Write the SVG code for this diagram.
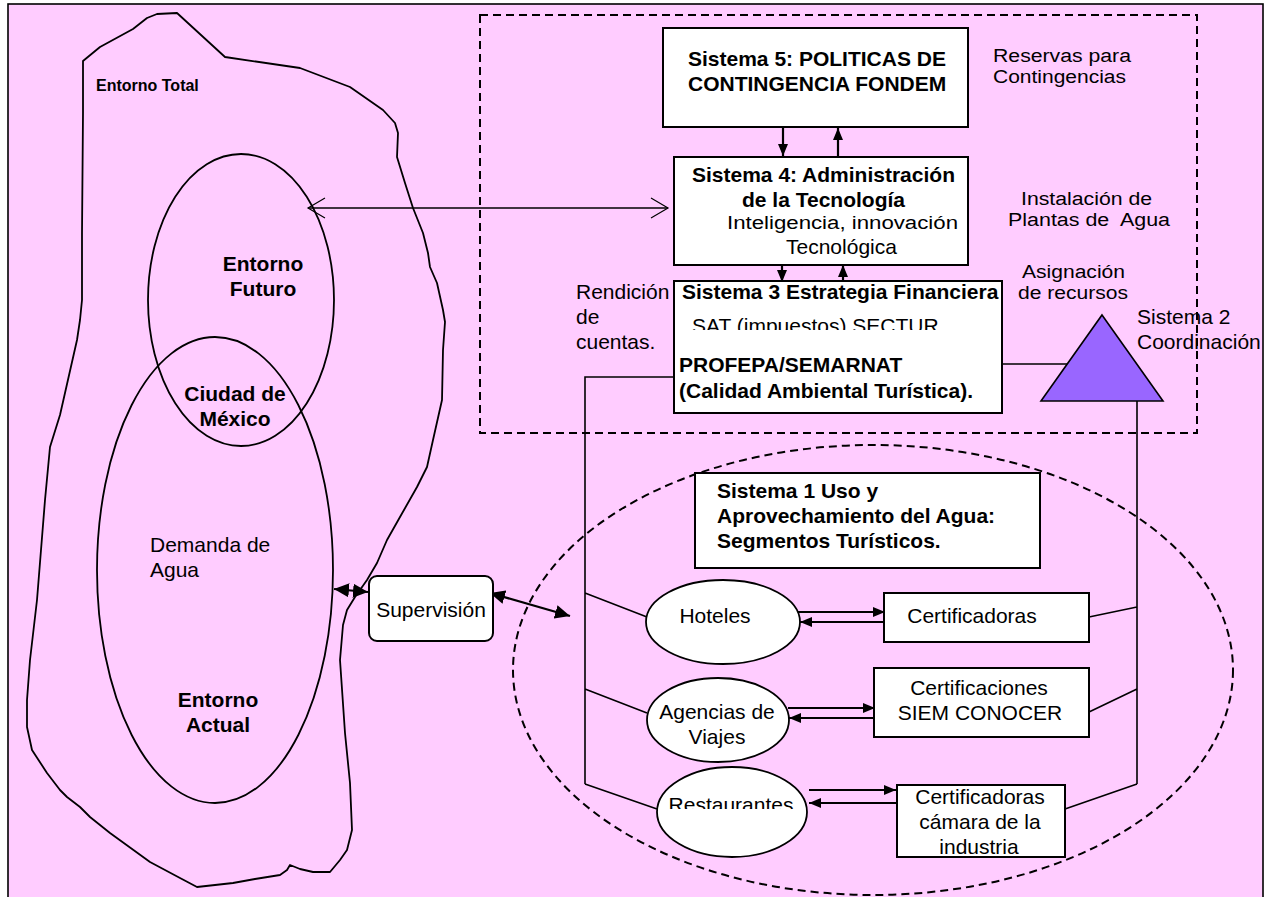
<svg xmlns="http://www.w3.org/2000/svg" width="1270" height="897" viewBox="0 0 1270 897">
  <style>
    text { font-family: "Liberation Sans", Arial, sans-serif; font-size: 21px; fill: #000; }
    .b { font-weight: bold; }
    .m { text-anchor: middle; }
    .s { font-size: 18px; }
    .box { fill: #fff; stroke: #000; stroke-width: 2; }
    .outline { fill: none; stroke: #000; stroke-width: 1.8; }
    .ell { fill: #fff; stroke: #000; stroke-width: 1.8; }
    .dash { fill: none; stroke: #000; stroke-width: 2; stroke-dasharray: 8 5; }
    .wire { fill: none; stroke: #000; stroke-width: 1.6; }
    .arr { fill: none; stroke: #000; stroke-width: 2.2; }
  </style>
  <defs>
    <marker id="ah" markerUnits="userSpaceOnUse" markerWidth="12" markerHeight="10" refX="12" refY="5" orient="auto-start-reverse">
      <path d="M0,0 L12,5 L0,10 z" fill="#000"/>
    </marker>
    <marker id="ahL" markerUnits="userSpaceOnUse" markerWidth="15" markerHeight="14" refX="15" refY="7" orient="auto-start-reverse">
      <path d="M0,0 L15,7 L0,14 z" fill="#000"/>
    </marker>
    <marker id="open" markerUnits="userSpaceOnUse" markerWidth="20" markerHeight="24" refX="17" refY="11" orient="auto-start-reverse" overflow="visible">
      <path d="M0,1 L17,11 L0,21" fill="none" stroke="#000" stroke-width="1.2"/>
    </marker>
    <clipPath id="clipSat"><rect x="680" y="300" width="320" height="30"/></clipPath>
    <clipPath id="clipRest"><rect x="660" y="780" width="150" height="29"/></clipPath>
  </defs>

  <!-- page frame -->
  <rect x="0" y="0" width="1270" height="897" fill="#fff"/>
  <rect x="8" y="4" width="1255" height="900" fill="#FFCCFF" stroke="#000" stroke-width="1.6"/>

  <!-- environment shapes -->
  <g id="entorno-total">
    <path class="outline" stroke-linejoin="round" d="M83,61 L100,47 L133,29 L147,18 L157,14 L177,13 L225,57 L300,68 L350,87 L383,110 L395,123 L398,133 L397,157 L405,183 L413,208 L423,233 L428,253 L430,267 L437,283 L443,310 L445,322 L443,350 L442,400 L433,440 L427,467 L417,487 L400,517 L387,540 L377,563 L367,580 L355,597 L347,610 L343,625 L340,660 L345,733 L350,783 L352,830 L347,850 L340,860 L330,872 L313,872 L300,869 L290,865 L287,870 L280,875 L255,879 L233,883 L197,887 L180,878 L150,862 L110,833 L90,817 L80,807 L67,797 L60,790 L47,773 L32,750 L27,727 L27,700 L30,660 L37,600 L45,500 L50,447 L60,415 L77,340 L80,320 L82,300 L82,233 L83,113 Z"/>
    <text class="b" x="96" y="91" style="font-size:16px">Entorno Total</text>
  </g>
  <g id="entorno-futuro">
    <ellipse class="outline" cx="241" cy="300" rx="93" ry="146"/>
    <text class="b m" x="263" y="271">Entorno</text>
    <text class="b m" x="263" y="296">Futuro</text>
  </g>
  <g id="entorno-actual">
    <ellipse class="outline" cx="215" cy="570" rx="118" ry="233"/>
    <text class="b m" x="235" y="401">Ciudad de</text>
    <text class="b m" x="235" y="426">México</text>
    <text x="150" y="552">Demanda de</text>
    <text x="150" y="577">Agua</text>
    <text class="b m" x="218" y="707">Entorno</text>
    <text class="b m" x="218" y="732">Actual</text>
  </g>

  <!-- system boundaries -->
  <rect id="metasistema" class="dash" x="480" y="15" width="717" height="418"/>
  <ellipse id="sistema-1-limite" class="dash" cx="873" cy="670" rx="360" ry="225"/>

  <!-- connectors -->
  <g id="connectors">
    <line class="wire" x1="308" y1="208" x2="668" y2="208" stroke-width="1.2" marker-start="url(#open)" marker-end="url(#open)"/>
    <line class="arr" x1="783" y1="127" x2="783" y2="156" marker-end="url(#ah)"/>
    <line class="arr" x1="838" y1="157" x2="838" y2="128" marker-end="url(#ah)"/>
    <line class="arr" x1="782" y1="265" x2="782" y2="282" marker-end="url(#ah)"/>
    <line class="arr" x1="843" y1="289" x2="843" y2="265" marker-end="url(#ah)"/>
    <path class="wire" d="M674,377 H585 V784 M585,593 L647,617 M585,689 L647,713 M585,784 L657,809"/>
    <path class="wire" d="M1002,364 H1067 M1137,401 V784 M1137,607 L1089,617 M1137,689 L1089,712 M1137,784 L1065,809"/>
    <line class="arr" x1="334" y1="589" x2="368" y2="592" marker-start="url(#ahL)" marker-end="url(#ahL)"/>
    <line class="arr" x1="490" y1="593" x2="570" y2="616" marker-start="url(#ahL)" marker-end="url(#ahL)"/>
    <line class="arr" x1="788" y1="612" x2="885" y2="612" marker-end="url(#ah)"/>
    <line class="arr" x1="885" y1="622" x2="800" y2="622" marker-end="url(#ah)"/>
    <line class="arr" x1="788" y1="708" x2="875" y2="708" marker-end="url(#ah)"/>
    <line class="arr" x1="875" y1="718" x2="789" y2="718" marker-end="url(#ah)"/>
    <line class="arr" x1="809" y1="790" x2="896" y2="790" marker-end="url(#ah)"/>
    <line class="arr" x1="896" y1="803" x2="809" y2="803" marker-end="url(#ah)"/>
  </g>

  <!-- system nodes -->
  <g id="sistema-5">
    <rect class="box" x="663" y="28" width="305" height="99"/>
    <text class="b" x="688" y="66">Sistema 5: POLITICAS DE</text>
    <text class="b" x="688" y="91">CONTINGENCIA FONDEM</text>
  </g>
  <g id="reservas">
    <text class="s" x="993" y="62" textLength="138" lengthAdjust="spacingAndGlyphs">Reservas para</text>
    <text class="s" x="993" y="83" textLength="133" lengthAdjust="spacingAndGlyphs">Contingencias</text>
  </g>
  <g id="sistema-4">
    <rect class="box" x="674" y="157" width="294" height="108"/>
    <text class="b" x="692" y="182">Sistema 4: Administración</text>
    <text class="b" x="742" y="207">de la Tecnología</text>
    <text class="s" x="727" y="229" textLength="231" lengthAdjust="spacingAndGlyphs">Inteligencia, innovación</text>
    <text x="786" y="254">Tecnológica</text>
  </g>
  <g id="instalacion">
    <text class="s" x="1021" y="205" textLength="131" lengthAdjust="spacingAndGlyphs">Instalación de</text>
    <text class="s" x="1008" y="226" textLength="162" lengthAdjust="spacingAndGlyphs" xml:space="preserve">Plantas de  Agua</text>
  </g>
  <g id="rendicion">
    <text x="576" y="299">Rendición</text>
    <text x="576" y="324">de</text>
    <text x="576" y="349">cuentas.</text>
  </g>
  <g id="sistema-3">
    <rect class="box" x="674" y="281" width="328" height="132"/>
    <text class="b" x="682" y="299">Sistema 3 Estrategia Financiera</text>
    <text x="692" y="333" clip-path="url(#clipSat)">SAT (impuestos) SECTUR</text>
    <text class="b" x="679" y="372">PROFEPA/SEMARNAT</text>
    <text class="b" x="679" y="398">(Calidad Ambiental Turística).</text>
  </g>
  <g id="asignacion">
    <text class="s" x="1022" y="278" textLength="103" lengthAdjust="spacingAndGlyphs">Asignación</text>
    <text class="s" x="1018" y="299" textLength="110" lengthAdjust="spacingAndGlyphs">de recursos</text>
  </g>
  <g id="sistema-2">
    <polygon points="1102,315 1163,401 1041,401" fill="#9966FF" stroke="#000" stroke-width="1.6"/>
    <text x="1137" y="324">Sistema 2</text>
    <text x="1137" y="349">Coordinación</text>
  </g>
  <g id="sistema-1">
    <rect class="box" x="695" y="473" width="345" height="95"/>
    <text class="b" x="717" y="498">Sistema 1 Uso y</text>
    <text class="b" x="717" y="523">Aprovechamiento del Agua:</text>
    <text class="b" x="717" y="548">Segmentos Turísticos.</text>
  </g>
  <g id="supervision">
    <rect class="box" x="369" y="576" width="124" height="65" rx="8"/>
    <text class="m" x="431" y="617">Supervisión</text>
  </g>
  <g id="hoteles">
    <ellipse class="ell" cx="723" cy="622" rx="77" ry="42"/>
    <text class="m" x="715" y="623">Hoteles</text>
  </g>
  <g id="agencias">
    <ellipse class="ell" cx="718" cy="720" rx="71" ry="42"/>
    <text class="m" x="717" y="719">Agencias de</text>
    <text class="m" x="717" y="744">Viajes</text>
  </g>
  <g id="restaurantes">
    <ellipse class="ell" cx="732" cy="812" rx="75" ry="45"/>
    <text class="m" x="731" y="812" clip-path="url(#clipRest)">Restaurantes</text>
  </g>
  <g id="certificadoras">
    <rect class="box" x="884" y="593" width="205" height="49"/>
    <text class="m" x="972" y="623">Certificadoras</text>
  </g>
  <g id="certificaciones">
    <rect class="box" x="874" y="668" width="215" height="69"/>
    <text class="m" x="979" y="695">Certificaciones</text>
    <text class="m" x="980" y="720">SIEM CONOCER</text>
  </g>
  <g id="certificadoras-camara">
    <rect class="box" x="897" y="785" width="168" height="72"/>
    <text class="m" x="980" y="804">Certificadoras</text>
    <text class="m" x="980" y="829">cámara de la</text>
    <text class="m" x="979" y="854">industria</text>
  </g>
</svg>
